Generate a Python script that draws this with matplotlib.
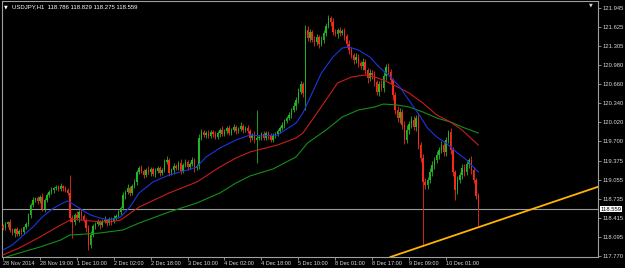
import matplotlib
matplotlib.use('Agg')
import matplotlib.pyplot as plt

plt.rcParams['font.family'] = ['Liberation Sans', 'DejaVu Sans']

symbol = "USDJPY,H1"
header_ohlc = "118.786 118.829 118.275 118.559"

# H1 candles, open of each bar = close of the bar before
first_open = 118.274
closes = [
    118.240, 118.308, 118.341, 118.207, 118.156, 118.223, 118.139, 118.190, 118.173, 118.257,
    118.308, 118.459, 118.628, 118.712, 118.745, 118.695, 118.762, 118.559, 118.712, 118.796,
    118.846, 118.880, 118.914, 118.931, 118.897, 118.947, 118.914, 118.880, 118.830, 118.409,
    118.341, 118.459, 118.409, 118.510, 118.442, 118.375, 118.240, 117.954, 118.122, 118.274,
    118.308, 118.341, 118.291, 118.358, 118.375, 118.324, 118.392, 118.358, 118.409, 118.442,
    118.510, 118.577, 118.796, 118.846, 118.914, 118.830, 118.947, 119.015, 119.183, 119.251,
    119.200, 119.133, 119.217, 119.183, 119.234, 119.150, 119.200, 119.251, 119.166, 119.217,
    119.352, 119.385, 119.166, 119.217, 119.284, 119.251, 119.335, 119.200, 119.301, 119.352,
    119.267, 119.318, 119.385, 119.251, 119.284, 119.756, 119.857, 119.806, 119.840, 119.790,
    119.857, 119.823, 119.773, 119.840, 119.890, 119.823, 119.874, 119.924, 119.840, 119.890,
    119.941, 119.874, 119.907, 119.958, 119.890, 119.924, 119.874, 119.756, 119.806, 119.722,
    119.756, 119.773, 119.823, 119.756, 119.840, 119.790, 119.722, 119.806, 119.823, 119.874,
    119.924, 119.975, 120.042, 120.093, 120.143, 120.227, 120.295, 120.396, 120.530, 120.665,
    120.514, 121.575, 121.440, 121.541, 121.406, 121.372, 121.457, 121.339, 121.406, 121.524,
    121.642, 121.777, 121.709, 121.541, 121.507, 121.575, 121.524, 121.558, 121.474, 121.339,
    121.238, 121.153, 121.069, 121.120, 121.019, 120.968, 121.036, 120.901, 120.766, 120.850,
    120.817, 120.699, 120.530, 120.665, 120.598, 120.800, 120.951, 120.867, 120.732, 120.480,
    120.227, 120.093, 120.194, 119.975, 119.722, 119.890, 119.992, 120.059, 119.941, 120.093,
    119.638, 119.419, 119.015, 118.964, 119.048, 119.183, 119.301, 119.385, 119.470, 119.554,
    119.638, 119.520, 119.722, 119.857, 119.554, 119.183, 118.880, 119.048, 119.133, 119.251,
    119.183, 119.318, 119.385, 119.217, 119.048, 118.786, 118.559,
]
# shadow lengths above / below the body
up_wick = [
    .03, .04, .02, .05, .03, .02, .04, .03, .05, .02,
    .03, .04, .03, .05, .02, .04, .03, .06, .03, .04,
    .03, .05, .02, .04, .03, .05, .02, .03, .04, .30,
    .05, .04, .06, .03, .05, .04, .03, .05, .06, .04,
    .03, .05, .04, .03, .06, .02, .04, .03, .05, .04,
    .03, .04, .05, .03, .06, .04, .03, .05, .04, .03,
    .05, .04, .03, .06, .04, .03, .05, .04, .03, .04,
    .05, .06, .04, .03, .05, .04, .03, .06, .04, .05,
    .03, .04, .05, .03, .04, .06, .05, .04, .03, .05,
    .04, .03, .05, .04, .03, .06, .04, .03, .05, .04,
    .05, .03, .04, .06, .03, .04, .05, .03, .04, .06,
    .47, .04, .03, .05, .04, .03, .05, .04, .03, .04,
    .04, .05, .03, .04, .05, .04, .06, .05, .06, .05,
    .04, .08, .06, .05, .04, .06, .05, .04, .06, .05,
    .05, .05, .04, .06, .05, .04, .05, .03, .05, .04,
    .06, .05, .04, .06, .05, .04, .06, .05, .04, .06,
    .05, .06, .04, .05, .06, .07, .05, .06, .05, .04,
    .05, .06, .07, .05, .06, .08, .05, .06, .07, .05,
    .06, .05, .07, .06, .05, .06, .07, .05, .06, .05,
    .06, .07, .05, .03, .06, .05, .04, .06, .05, .07,
    .06, .05, .04, .06, .05, .04, .043,
]
dn_wick = [
    .04, .03, .05, .03, .04, .06, .03, .04, .05, .03,
    .04, .03, .05, .04, .03, .05, .04, .03, .05, .04,
    .03, .04, .05, .03, .04, .03, .05, .04, .03, .07,
    .27, .05, .04, .06, .05, .04, .06, .08, .05, .04,
    .05, .03, .06, .04, .03, .05, .04, .06, .03, .04,
    .03, .05, .04, .06, .03, .05, .04, .03, .05, .04,
    .04, .05, .03, .04, .06, .03, .05, .04, .05, .03,
    .04, .03, .05, .04, .06, .03, .04, .05, .03, .04,
    .05, .04, .03, .06, .04, .05, .03, .04, .05, .04,
    .03, .05, .04, .03, .06, .04, .03, .05, .04, .03,
    .04, .05, .03, .04, .05, .03, .04, .06, .04, .05,
    .39, .04, .05, .03, .04, .05, .04, .03, .05, .04,
    .04, .03, .05, .04, .03, .05, .04, .06, .05, .04,
    .06, .29, .05, .06, .04, .07, .05, .06, .04, .05,
    .05, .04, .06, .05, .04, .06, .05, .04, .06, .05,
    .06, .05, .07, .05, .06, .05, .07, .06, .08, .05,
    .06, .07, .05, .06, .05, .07, .06, .05, .06, .08,
    .07, .06, .08, .06, .07, .05, .06, .07, .05, .06,
    .07, .06, 1.08, .07, .06, .05, .06, .07, .05, .06,
    .05, .07, .06, .05, .07, .06, .17, .06, .05, .07,
    .06, .05, .07, .06, .05, .06, .284,
]

# moving averages (bar index, price)
blue_bars = [0, 4, 8, 13, 17, 22, 26, 28, 31, 35, 38, 42, 46, 51, 55, 59, 65, 72, 80, 84, 88,
             94, 101, 107, 112, 119, 127, 130, 134, 138, 143, 147, 150, 154, 159, 163, 168,
             172, 175, 178, 181, 184, 188, 192, 197, 201, 206]
blue_ma = [117.870, 117.954, 118.089, 118.257, 118.425, 118.577, 118.661, 118.695, 118.628,
           118.526, 118.459, 118.409, 118.375, 118.425, 118.594, 118.830, 119.015, 119.133,
           119.217, 119.267, 119.436, 119.587, 119.722, 119.806, 119.790, 119.806, 120.008,
           120.177, 120.514, 120.850, 121.120, 121.271, 121.288, 121.238, 121.120, 120.951,
           120.783, 120.615, 120.446, 120.278, 120.109, 119.924, 119.773, 119.672, 119.503,
           119.385, 119.183]
red_bars = [0, 7, 16, 25, 30, 38, 46, 51, 59, 72, 84, 94, 101, 107, 119, 127, 130, 134, 140,
            145, 151, 157, 161, 165, 171, 176, 182, 188, 194, 199, 206]
red_ma = [117.786, 117.903, 118.089, 118.291, 118.392, 118.358, 118.341, 118.375, 118.594,
          118.830, 119.015, 119.267, 119.419, 119.520, 119.638, 119.756, 119.840, 120.059,
          120.396, 120.682, 120.783, 120.817, 120.783, 120.732, 120.615, 120.514, 120.345,
          120.143, 120.025, 119.890, 119.638]
green_bars = [0, 7, 16, 25, 29, 36, 42, 52, 59, 72, 84, 94, 101, 107, 117, 127, 132, 140, 147,
              154, 161, 165, 171, 176, 182, 188, 194, 199, 206]
green_ma = [117.735, 117.819, 117.920, 118.038, 118.122, 118.139, 118.156, 118.207, 118.324,
            118.510, 118.661, 118.830, 118.998, 119.116, 119.234, 119.436, 119.672, 119.890,
            120.109, 120.227, 120.278, 120.328, 120.311, 120.278, 120.194, 120.093, 120.025,
            119.941, 119.840]

bid = 118.559
trend_a = (182, 117.937)
trend_b = (241, 118.712)

price_ticks = [121.945, 121.625, 121.305, 120.980, 120.660, 120.340, 120.020, 119.700,
               119.375, 119.055, 118.735, 118.415, 118.095, 117.770]
date_ticks = [0, 16, 32, 48, 64, 80, 96, 112, 128, 144, 160, 176, 192]
date_labels = ["28 Nov 2014", "28 Nov 19:00", "1 Dec 10:00", "2 Dec 02:00", "2 Dec 18:00",
               "3 Dec 10:00", "4 Dec 02:00", "4 Dec 18:00", "5 Dec 10:00", "8 Dec 01:00",
               "8 Dec 17:00", "9 Dec 09:00", "10 Dec 01:00"]

bull = '#22B422'
bear = '#F52A1A'
axcol = '#A0A0A0'
txtcol = '#D8D8D8'

opens = [first_open] + closes[:-1]
n = len(closes)
idx = list(range(n))
highs = [max(o, c) + u for o, c, u in zip(opens, closes, up_wick)]
lows = [min(o, c) - d for o, c, d in zip(opens, closes, dn_wick)]
cols = [bull if c >= o else bear for o, c in zip(opens, closes)]

fig = plt.figure(figsize=(6.25, 2.68), dpi=100, facecolor='black')
ax = fig.add_axes([2 / 625, 11 / 268, 596 / 625, 256 / 268], facecolor='black')

ax.axhline(bid, color='#9A9A9A', lw=0.8, zorder=1)

ax.vlines(idx, lows, highs, colors=cols, lw=0.6, zorder=2)
bodies = [max(abs(c - o), 0.006) for o, c in zip(opens, closes)]
ax.bar(idx, bodies, bottom=[min(o, c) for o, c in zip(opens, closes)], width=0.62,
       color=cols, linewidth=0, zorder=3)

ax.plot(green_bars, green_ma, color='#149014', lw=0.8, zorder=4)
ax.plot(red_bars, red_ma, color='#C81E1E', lw=0.8, zorder=4)
ax.plot(blue_bars, blue_ma, color='#1A36E0', lw=0.8, zorder=4)

ax.axline(trend_a, trend_b, color='#FFB400', lw=1.3, zorder=5)

ax.set_xlim(-0.43, 257.9)
ax.set_ylim(117.752, 122.063)

ax.yaxis.tick_right()
ax.set_yticks(price_ticks)
ax.set_yticklabels([f"{p:.3f}" for p in price_ticks])
ax.tick_params(axis='y', colors=axcol, labelcolor=txtcol, labelsize=4.2, length=2, pad=1.5, width=0.6)
ax.set_xticks(date_ticks)
ax.set_xticklabels(date_labels, ha='left')
ax.tick_params(axis='x', colors=axcol, labelcolor=txtcol, labelsize=4, length=2, pad=1.2, width=0.6)
for s in ax.spines.values():
    s.set_color(axcol)
    s.set_linewidth(0.8)

ax.text(1.004, bid, f"{bid:.3f}", transform=ax.get_yaxis_transform(), fontsize=4.2,
        color='black', va='center', ha='left', clip_on=False,
        bbox=dict(boxstyle='square,pad=0.15', fc='white', ec='none'))

fig.text(12 / 625, 1 - 7 / 268, f"{symbol}  {header_ohlc}", color='white', fontsize=4.3,
         va='center', ha='left')
fig.text(6 / 625, 1 - 7 / 268, "\u25bc", color='white', fontsize=3.5, va='center', ha='center',
         family='DejaVu Sans')
fig.text(591 / 625, 1 - 5 / 268, "\u25bc", color='#D0D0D0', fontsize=3.5, va='center', ha='center',
         family='DejaVu Sans')

fig.savefig('out.png', dpi=100, facecolor='black')
